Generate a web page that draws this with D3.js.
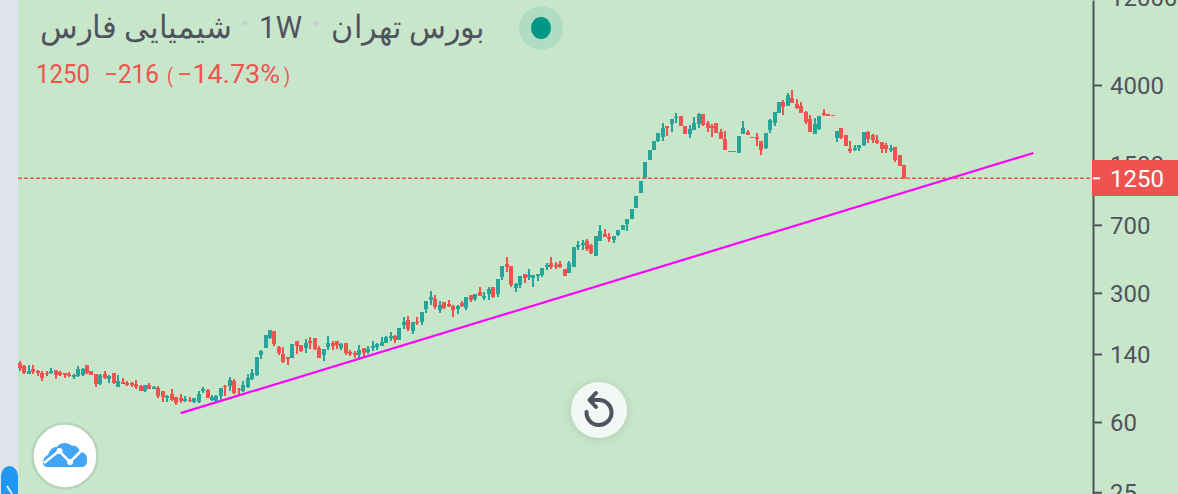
<!DOCTYPE html>
<html><head><meta charset="utf-8">
<style>html,body{margin:0;padding:0;background:#c8e6c9;overflow:hidden}svg{display:block}text{font-family:Roboto,sans-serif}</style>
<script src="https://cdn.jsdelivr.net/npm/d3@7/dist/d3.min.js"></script>
</head><body><svg id="c" width="1178" height="494"></svg>
<script>
const opens=[124.7,120.1,108.8,115.7,112.9,110.1,110.1,110.1,114.3,111.5,110.1,108.8,104.8,106.1,107.4,121.6,112.9,108.8,96,108.8,
102.2,110.1,92.5,98.5,97.2,97.2,96,93.7,88,94.8,90.2,91.4,88,80.7,84.8,81.7,80.7,77.7,78.7,76.7,
76.7,88,89.1,78.7,77.7,82.7,93.7,93.7,99.7,90.2,88,92.5,102.2,107.4,137.8,150,171,186,152,139.4,
134.4,132.8,164,156,150,164,171,150,137.8,152,160,164,150,160,143,141.2,137.8,150,143,150,
152,154,160,171,175,166,201,214,186,208,208,245,274,278,242,267,261,254,245,264,
248,292,278,303,281,295,322,295,365,430,419,318,330,379,365,361,370,374,414,435,
424,430,404,384,414,531,544,572,544,475,572,624,601,579,616,656,707,752,863,1041,
1250,1570,1779,1990,2092,2399,2460,2651,2718,2399,2171,2282,2460,2786,2490,2399,2490,2226,2040,1757,
1757,1714,2171,2226,2092,2092,1990,1824,2282,2490,2821,3236,3078,3401,3156,3078,2857,2618,2171,2311,
2821,2786,2752,2066,2340,2145,1801,1779,1824,1893,2226,2145,2015,1965,1893,1779,1847,1671,1475];
const highs=[127.9,121.6,121.6,121.6,114.3,112.9,112.9,117.2,114.3,112.9,110.1,111.5,108.8,120.1,117.2,121.6,112.9,108.8,108.8,112.9,
107.4,110.1,107.4,103.5,99.7,98.5,100.9,94.8,94.8,97.2,93.7,93.7,88,83.7,90.2,81.7,84.8,82.7,81.7,80.7,
88,92.5,90.2,83.7,83.7,91.4,94.8,104.8,102.2,91.4,99.7,108.8,115.7,134.4,146.6,177,189,186,154,152,
134.4,158,164,156,168,173,171,154,148.4,175,164,164,160,160,146.6,144.8,156,150,154,164,
160,173,175,184,177,193,222,224,208,222,236,271,307,292,271,267,274,257,257,271,
285,292,295,322,303,322,322,356,419,469,419,339,370,379,404,374,379,409,435,469,
441,446,404,446,531,572,579,586,551,608,698,664,632,608,656,698,752,852,1002,1208,
1532,1779,1990,2199,2490,2399,2618,2821,2718,2399,2429,2684,2821,2786,2553,2460,2490,2311,2254,1757,
1757,2118,2553,2282,2092,2199,1990,2199,2618,2857,3236,3317,3620,3758,3359,3236,2892,2752,2651,2718,
2965,2786,2752,2254,2340,2145,1990,1893,1893,2226,2254,2171,2145,1965,1941,1893,1847,1671,1475];
const lows=[112.9,108.8,108.8,108.8,106.1,99.7,106.1,108.8,102.2,106.1,103.5,104.8,102.2,104.8,106.1,108.8,107.4,92.5,94.8,102.2,
97.2,96,92.5,96,93.7,92.5,90.2,88,86.9,90.2,90.2,80.7,76.7,76.7,77.7,73.9,75.8,76.7,76.7,75.8,
75.8,85.8,80.7,77.7,76.7,76.7,82.7,88,84.8,82.7,86.9,91.4,100.9,106.1,131.1,150,168,154,137.8,124.7,
121.6,132.8,139.4,143,141.2,148.4,146.6,132.8,127.9,146.6,146.6,148.4,146.6,137.8,136,132.8,131.1,132.8,139.4,144.8,
146.6,154,160,164,160,166,191,186,179,201,201,233,257,245,233,245,251,222,230,251,
242,267,271,288,274,274,281,285,352,389,322,303,318,339,352,322,347,365,399,404,
404,409,370,384,414,511,511,505,486,475,572,601,565,558,608,656,648,752,863,1041,
1250,1570,1779,1965,1990,2118,2226,2490,2399,2171,2066,2282,2340,2399,2226,2092,2199,2040,1779,1735,
1735,1714,2171,2145,2066,1870,1671,1801,2199,2399,2821,2752,3078,3196,2965,2821,2460,2226,2171,2282,
2718,2718,2718,1965,2040,1870,1714,1757,1757,1870,1941,1941,1917,1714,1714,1735,1532,1457,1236];
const closes=[117.2,110.1,112.9,111.5,110.1,103.5,108.8,112.9,107.4,107.4,107.4,106.1,107.4,115.7,115.7,110.1,107.4,96,107.4,103.5,
106.1,97.2,99.7,96,94.8,94.8,92.5,88,94.8,90.2,92.5,82.7,81.7,82.7,78.7,75.8,77.7,79.7,77.7,80.7,
84.8,90.2,80.7,81.7,82.7,91.4,92.5,100.9,85.8,89.1,94.8,103.5,110.1,134.4,144.8,177,189,158,141.2,126.3,
131.1,158,154,144.8,160,160,148.4,132.8,148.4,160,154,156,158,141.2,139.4,137.8,146.6,141.2,148.4,154,
158,162,173,175,166,193,208,191,208,206,236,271,285,251,257,248,254,242,254,254,
285,274,295,288,288,314,285,356,419,414,330,335,370,361,374,374,379,409,424,414,
414,414,370,435,531,544,558,518,493,608,648,601,586,608,656,698,752,852,1002,1208,
1532,1779,1990,2199,2340,2340,2618,2684,2399,2171,2311,2490,2786,2429,2340,2340,2199,2040,1779,1735,
1735,2118,2340,2145,2066,2040,1779,2199,2585,2857,3236,3040,3531,3196,3003,2821,2522,2226,2460,2718,
2752,2718,2718,2254,2066,1870,1757,1824,1893,2226,2040,2015,1941,1801,1801,1824,1570,1457,1250];
const yTicks=[12000,4000,1500,700,300,140,60,25];
const lastPrice=1250;
const legendParts=["1250","\u2212216","(","\u221214.73%",")"];
const titleParts=["شیمیایی فارس","1W","بورس تهران"];
const trendIndex=[36,227];
const trendPrice=[67,1714];

const UP="#26a69a",DOWN="#ef5350",TXT="#50535e",BG="#c8e6c9";
const svg=d3.select("#c");
svg.append("rect").attr("width",1178).attr("height",494).attr("fill",BG);
const defs=svg.append("defs");
defs.append("clipPath").attr("id","plot").append("rect").attr("x",18).attr("y",0).attr("width",1075).attr("height",494);
const blur=defs.append("filter").attr("id","sh").attr("x","-40%").attr("y","-40%").attr("width","180%").attr("height","180%");
blur.append("feDropShadow").attr("dx",0).attr("dy",1).attr("stdDeviation",5).attr("flood-color","#000").attr("flood-opacity",.13);

const base=d3.scaleLog().domain([60,4000]).range([422,85]);
const y=d3.scaleLog().domain([base.invert(494),base.invert(0)]).range([494,0]);
const x=d3.scaleLinear().domain([0,opens.length-1]).range([20,904]);

const plot=svg.append("g").attr("clip-path","url(#plot)");
const idx=d3.range(opens.length);
const col=i=>closes[i]>opens[i]?UP:DOWN;
const cg=plot.append("g").attr("shape-rendering","crispEdges");
cg.selectAll("rect.w").data(idx).join("rect").attr("class","w")
 .attr("x",i=>Math.round(x(i))-1).attr("width",2)
 .attr("y",i=>y(highs[i])).attr("height",i=>Math.max(1,y(lows[i])-y(highs[i]))).attr("fill",col);
cg.selectAll("rect.b").data(idx).join("rect").attr("class","b")
 .attr("x",i=>Math.round(x(i))-2).attr("width",4)
 .attr("y",i=>y(Math.max(opens[i],closes[i])))
 .attr("height",i=>Math.max(1,Math.abs(y(opens[i])-y(closes[i])))).attr("fill",col);

plot.append("line").attr("x1",18).attr("x2",1092).attr("y1",y(lastPrice)).attr("y2",y(lastPrice))
 .attr("stroke",DOWN).attr("stroke-width",1.5).attr("stroke-dasharray","4 2");
plot.append("path").datum(trendIndex.map((d,i)=>[x(d),y(trendPrice[i])]))
 .attr("d",d3.line()).attr("stroke","#ff00ff").attr("stroke-width",2.2).attr("fill","none");

// axis
const ax=svg.append("g").attr("transform","translate(1093,0)")
 .call(d3.axisRight(y).tickValues(yTicks).tickFormat(d3.format("d")).tickSize(9).tickSizeOuter(0).tickPadding(8));
ax.selectAll("path,line").attr("stroke",TXT).attr("stroke-width",2);
ax.selectAll("text").attr("fill",TXT).attr("font-size",24).attr("font-family","Roboto")
 .attr("dy","0.32em").attr("transform","translate(0,0.7)");

// last price tag
svg.append("rect").attr("x",1092).attr("y",160).attr("width",86).attr("height",36).attr("fill",DOWN);
svg.append("line").attr("x1",1093).attr("x2",1100).attr("y1",y(lastPrice)).attr("y2",y(lastPrice)).attr("stroke","#fff").attr("stroke-width",2);
svg.append("text").attr("x",1110).attr("y",y(lastPrice)+9).attr("fill","#fff").attr("font-size",24).text(d3.format("d")(lastPrice));

// left strip
svg.append("rect").attr("width",18).attr("height",494).attr("fill","#e0e3eb");
svg.append("path").attr("d","M1 494V476a8.5 10 0 0 1 17 0V494Z").attr("fill","#2196f3");
svg.append("path").attr("d","M7 486L12 494").attr("stroke","#fff").attr("stroke-width",1.5).attr("fill","none");

// header
const tFont="'Noto Sans','DejaVu Sans',sans-serif";
const tg=svg.append("g");
[[40,192,32],[259,43,32],[331,154,32]].forEach((p,i)=>{
 tg.append("text").attr("x",p[0]).attr("y",38).attr("fill",TXT).attr("font-size",p[2])
  .attr("font-family",i==1?"Roboto":tFont).attr("font-weight",400)
  .attr("textLength",p[1]).attr("lengthAdjust","spacingAndGlyphs").text(titleParts[i]);
});
svg.append("rect").attr("x",243).attr("y",21).attr("width",4).attr("height",4).attr("fill","#c9ccd4");
svg.append("rect").attr("x",314).attr("y",21).attr("width",4).attr("height",4).attr("fill","#c9ccd4");
svg.append("circle").attr("cx",541).attr("cy",28).attr("r",22).attr("fill","#b0dcc4");
svg.append("ellipse").attr("cx",541).attr("cy",28).attr("rx",10).attr("ry",11).attr("fill","#009688");
[[36,54,25],[104,55,25],[167,6,20],[177,103,25],[284,6,20]].forEach((p,i)=>{
 svg.append("text").attr("x",p[0]).attr("y",83).attr("fill",DOWN).attr("font-size",p[2]).attr("font-weight",400)
  .attr("textLength",p[1]).attr("lengthAdjust","spacingAndGlyphs").text(legendParts[i]);
});

// reset button
svg.append("circle").attr("cx",599).attr("cy",410).attr("r",28).attr("fill","#f2f9f4").attr("filter","url(#sh)");
svg.append("path").attr("d","M590 400H599A12.5 12.5 0 1 1 586.5 412").attr("fill","none").attr("stroke",TXT).attr("stroke-width",4).attr("stroke-linecap","round");
svg.append("path").attr("d","M596 393L589.5 400L596 407").attr("fill","none").attr("stroke",TXT).attr("stroke-width",4).attr("stroke-linecap","round").attr("stroke-linejoin","round");

// logo
svg.append("circle").attr("cx",65).attr("cy",456).attr("r",32.5).attr("fill","#fff").attr("stroke","#b7d3ba").attr("stroke-width",2.5);
svg.append("path").attr("d","M47 467C41 467 42 457 48 455C50 449 53 447 57 447C60 442 68 442 72 446C76 445 79 448 80 452C85 452 88 456 87 461C87 465 84 467 82 467Z").attr("fill","#42a5f5");
svg.append("path").attr("d","M44 463L59 451L70 462L82 450").attr("fill","none").attr("stroke","#fff").attr("stroke-width",2.5);
svg.append("circle").attr("cx",59.5).attr("cy",451).attr("r",3).attr("fill","#fff");
svg.append("circle").attr("cx",70).attr("cy",462).attr("r",3).attr("fill","#fff");
</script></body></html>
